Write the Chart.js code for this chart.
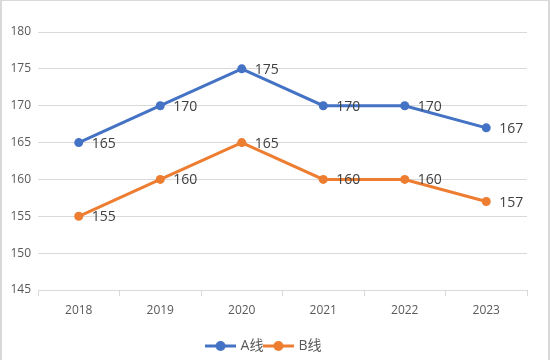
<!DOCTYPE html>
<html>
<head>
<meta charset="utf-8">
<script src="https://cdn.jsdelivr.net/npm/chart.js@4/dist/chart.umd.min.js"></script>
<style>
  html, body { margin: 0; padding: 0; background: #fff; }
  #wrap { position: relative; width: 550px; height: 360px; box-sizing: border-box;
          border-top: 1px solid #d9d9d9; border-left: 2px solid #d9d9d9; border-right: 2px solid #d9d9d9; }
  canvas { display: block; }
</style>
</head>
<body>
<div id="wrap"><canvas id="c" width="546" height="359"></canvas></div>
<script>
var years = ["2018", "2019", "2020", "2021", "2022", "2023"];
var lineA = [165, 170, 175, 170, 170, 167];
var lineB = [155, 160, 165, 160, 160, 157];
var seriesNames = ["A线", "B线"];
var blue = "#4472C4";
var orange = "#ED7D31";

// legend marker: line with a dot in the middle
function marker(color) {
    var cv = document.createElement("canvas");
    cv.width = 31; cv.height = 12;
    var g = cv.getContext("2d");
    g.strokeStyle = color; g.lineWidth = 3;
    g.beginPath(); g.moveTo(0, 6); g.lineTo(31, 6); g.stroke();
    g.fillStyle = color;
    g.beginPath(); g.arc(15.5, 6, 5, 0, Math.PI * 2); g.fill();
    return cv;
}

// value labels on the right of each point
var valueLabels = {
    id: "valueLabels",
    afterDatasetsDraw: function(chart) {
        var ctx = chart.ctx;
        ctx.save();
        ctx.font = "14px 'Open Sans', 'Noto Sans', sans-serif";
        ctx.fillStyle = "#404040";
        ctx.textAlign = "left";
        ctx.textBaseline = "middle";
        chart.data.datasets.forEach(function(ds, i) {
            chart.getDatasetMeta(i).data.forEach(function(pt, j) {
                ctx.fillText(ds.data[j], pt.x + 13, pt.y + 1);
            });
        });
        ctx.restore();
    }
};

var ctx = document.getElementById("c").getContext("2d");
var chart = new Chart(ctx, {
    type: "line",
    data: {
        labels: years,
        datasets: [
            { label: seriesNames[0], data: lineA, borderColor: blue, backgroundColor: blue,
              borderWidth: 3, pointRadius: 4.5, pointBackgroundColor: blue, pointBorderWidth: 0,
              pointStyle: "circle", tension: 0 },
            { label: seriesNames[1], data: lineB, borderColor: orange, backgroundColor: orange,
              borderWidth: 3, pointRadius: 4.5, pointBackgroundColor: orange, pointBorderWidth: 0,
              pointStyle: "circle", tension: 0 }
        ]
    },
    options: {
        responsive: false,
        animation: false,
        layout: { padding: { top: 31, right: 21, left: 0, bottom: -3 } },
        plugins: {
            tooltip: { enabled: false },
            legend: {
                position: "bottom",
                labels: {
                    usePointStyle: true,
                    pointStyleWidth: 26,
                    color: "#595959",
                    font: { size: 14, family: "'Open Sans', 'Noto Sans CJK SC', sans-serif" },
                    padding: 2,
                    boxWidth: 26,
                    generateLabels: function(chart) {
                        return chart.data.datasets.map(function(ds, i) {
                            return { text: ds.label, pointStyle: marker(ds.borderColor),
                                     fontColor: "#595959", lineWidth: 0, datasetIndex: i };
                        });
                    }
                }
            }
        },
        scales: {
            x: {
                offset: true,
                afterFit: function(scale) { scale.height = 47; },
                grid: { drawOnChartArea: false, drawTicks: true, tickLength: 6, offset: true, color: "#d9d9d9" },
                border: { color: "#d9d9d9", width: 1 },
                ticks: { color: "#595959", font: { size: 12, family: "'Open Sans', sans-serif" }, padding: 7 }
            },
            y: {
                min: 145,
                max: 180,
                afterFit: function(scale) { scale.width = 36; },
                grid: { color: "#d9d9d9", drawTicks: false },
                border: { display: false },
                ticks: { stepSize: 5, color: "#595959", font: { size: 12, family: "'Open Sans', sans-serif" }, padding: 7 }
            }
        }
    },
    plugins: [valueLabels]
});
</script>
</body>
</html>
